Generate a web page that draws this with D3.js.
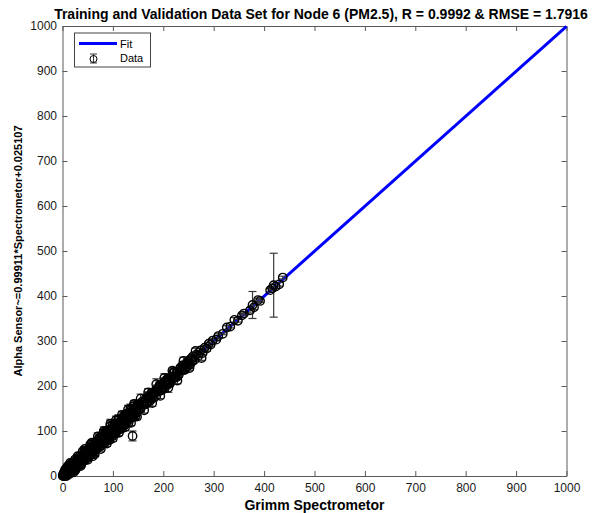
<!DOCTYPE html>
<html>
<head>
<meta charset="utf-8">
<script src="https://d3js.org/d3.v7.min.js"></script>
<style>
  body { margin: 0; background: #fff; }
  svg { display: block; font-family: "Liberation Sans", Arial, Helvetica, sans-serif; }
</style>
</head>
<body>
<div id="chart"></div>
<script>
// Grimm readings (x) vs Alpha sensor readings (y), with error bar half-widths
var grimm = [
  0.5,1,1.6,2.2,2.9,3.5,4.2,5,5.6,6.3,7.1,7.8,8.6,9.4,10.1,11,11.8,12.5,13.4,14.2,
  15,15.9,16.7,17.5,18.4,19.2,20.1,21,21.8,22.7,23.6,24.4,25.3,26.2,27.1,28,28.9,29.8,30.7,31.6,
  32.5,33.4,34.4,35.3,36.2,37.2,38.1,39,40,41,42,43,44,45,46,47,48,49,50,51,
  52,53,54,55,56,57,58,59,60,
  61,62.3,63.5,64.8,66,67.2,68.5,69.7,71,72.2,73.5,74.7,76,77.2,78.5,79.7,81,82.2,83.5,84.7,
  86,87.2,88.5,89.7,91,92.2,93.5,94.7,96,97.2,98.5,99.7,101,102.2,103.5,104.7,106,107.2,108.5,109.7,
  111,112.2,113.5,114.7,116,117.2,118.5,119.7,121,122.2,123.5,124.7,126,127.2,128.5,129.7,131,132.2,133.5,134.7,
  136,137.2,138.5,139.7,141,142.5,144,145.5,147,148.5,150,
  152,155,158,160,163,166,169,172,175,178,181,184,187,190,193,196,199,202,205,208,
  211,214,217,220,223,226,229,232,235,238,241,244,247,250,253,256,259,262,266,270,
  274,278,282,286,290,294,298,
  305,309,318,326,333,341,348,356,360,372,377,380,388,392,412,416,419,423,430,437,
  139,
  15,22,30,36,44,50,58,64,70,76,82,88,95,100,106,112,118,124,130,136,
  142,148,155,162,170,178,186,194,202,210,218,228,240,252,264,276,40,25,10,5,
  8,55,60,
  1,3,5,7,9,11,13,15,17,19,21,23,25,27,29,31,33,35,37,39,
  41,43,45,47,49,51,53,55,57,59,61,63,65,67,69,71,73,75,77,79,
  81,83,85,87,89,91,93,95,97,99,101,103,105,107,109,111,113,115,117,119,
  121,123,125,127,129,131,133,135,137,139,141,143,145,147,149,
  154,157,162,165,168,171,174,177,180,183,186,189,192,195,198,201,204,207,210,213,
  216,219,222,225,228,231,234,237,240,243,246,249,252,255,258
];
var alpha = [
  2,0.2,4.6,1.2,6.9,0.5,6.2,1,10.6,6.3,2.1,10.8,14.6,7.4,4.1,15,12.8,9.5,20.4,13.2,
  17,10.9,21.7,10.5,21.4,19.2,26.1,17,19.8,30.7,17.6,25.4,29.3,23.2,20.1,33,30.9,28.8,37.7,26.6,
  35.5,25.4,34.4,41.3,33.2,41.2,32.1,41,48,37,43,36,49,43,53,42,51,58,49,45,
  56,45,60,52,58,65,52,60,56,
  64,56.3,70.5,62.8,71,59.2,69.5,75.7,67,81.2,72.5,67.7,80,88.2,75.5,81.7,72,89.2,78.5,97.7,
  86,81.2,93.5,87.7,100,84.2,96.5,110.7,92,103.2,88.5,101.7,109,96.2,115.5,101.7,110,98.2,115.5,108.7,
  125,107.2,115.5,106.7,122,127.2,114.5,122.7,110,130.2,121.5,129.7,138,120.2,129.5,125.7,140,126.2,136.5,149.7,
  133,129.2,144.5,141.7,131,149.5,143,149.5,141,157.5,147,
  156,150,165,158,166,160,177,173,171,183,174,186,193,187,202,191,200,194,209,215,
  209,208,220,230,219,228,222,237,234,246,236,247,244,256,247,258,266,258,270,268,
  279,273,285,283,294,292,301,
  303,311,316,330,332,347,345,357,361,368,380,375,391,389,413,417,424,421,426,441,
  89,
  29,8,44,22,60,36,74,48,88,60,100,72,116,84,124,96,136,108,148,118,
  160,132,172,146,186,162,204,178,218,196,234,212,256,240,278,262,55,12,22,14,
  0,70,44,
  0,8,0.8,16,3,21,4,17,28,9,28,19,37,16,32,24,43,33,25,47,
  46,34,56,42,50,40,62,52,70,51,67,51,69,77,63,70,85,66,84,75,
  95,73,87,96,82,102,80,100,95,112,93,109,94,117,105,126,104,118,105,127,
  133,117,115,131,138,118,140,132,148,131,155,138,134,153,159,
  149,163,159,172,162,175,167,185,178,188,178,192,199,190,204,197,212,201,213,206,
  221,216,231,219,232,226,241,235,246,236,249,254,248,261,255
];
var errBar = [
  1,2,1,3,2,1,2,3,2,1,3,2,4,2,1,3,2,5,2,1,
  3,2,4,3,2,1,5,2,3,4,2,1,3,6,2,3,4,2,5,3,
  2,4,1,3,6,2,4,3,5,2,3,7,2,4,3,5,2,4,6,3,
  2,5,3,8,2,4,3,5,2,
  3,5,2,6,4,3,8,2,5,4,3,9,2,6,4,5,3,7,2,10,
  4,3,6,5,2,8,4,12,3,5,7,4,9,3,6,5,4,10,3,6,
  8,4,5,3,11,6,4,7,3,5,9,4,6,3,8,5,4,7,3,10,
  5,6,4,8,3,6,5,4,7,3,6,
  4,6,3,8,5,4,10,3,6,5,7,4,9,5,3,6,4,8,5,12,
  4,6,3,7,5,4,8,3,6,5,4,7,3,5,6,4,5,3,6,4,
  5,3,4,6,3,5,4,
  3,5,2,4,3,5,3,4,3,6,30,5,4,3,4,3,71,5,4,3,
  11,
  3,2,4,3,5,3,6,4,8,5,9,6,10,7,9,6,8,7,9,6,
  8,7,10,6,8,7,12,6,9,10,6,7,8,5,6,5,3,2,2,2,
  1,4,4,
  2,2,1,3,2,3,2,3,4,2,3,2,5,3,2,4,3,2,5,3,
  4,3,6,2,3,5,4,2,6,3,4,5,3,6,2,4,7,3,5,2,
  8,4,3,6,2,5,7,3,4,9,3,5,6,4,3,10,5,4,6,3,
  8,4,5,3,6,7,4,3,8,5,9,4,6,3,5,
  4,5,3,6,4,5,3,7,4,5,6,3,8,4,5,3,6,4,5,7,
  3,4,9,5,4,6,3,5,4,6,3,5,4,3,5
];

// fitted line: Alpha Sensor ~= 0.99911*Spectrometor + 0.025107
var fitX = [0, 1000];
var fitY = [0.025107, 999.135];

var axisTicks = [0, 100, 200, 300, 400, 500, 600, 700, 800, 900, 1000];

var width = 606, height = 513;
var plotLeft = 62.5, plotRight = 566.5, plotTop = 26, plotBottom = 476;

var svg = d3.select("#chart").append("svg")
  .attr("width", width)
  .attr("height", height);

var xScale = d3.scaleLinear().domain([0, 1000]).range([plotLeft, plotRight]);
var yScale = d3.scaleLinear().domain([0, 1000]).range([plotBottom, plotTop]);
var fmt = d3.format("d");

// axes, ticks pointing inward like matlab
function styleAxis(g) {
  g.selectAll("path").attr("stroke", "#5a5a5a");
  g.selectAll("line").attr("stroke", "#5a5a5a");
  g.selectAll("text").attr("fill", "#1a1a1a").style("font-size", "12px");
}

svg.append("g")
  .attr("transform", "translate(0," + plotBottom + ")")
  .call(d3.axisBottom(xScale).tickValues(axisTicks).tickFormat(fmt).tickSizeInner(-5).tickSizeOuter(0).tickPadding(7))
  .call(styleAxis);
svg.append("g")
  .attr("transform", "translate(" + plotLeft + ",0)")
  .call(d3.axisLeft(yScale).tickValues(axisTicks).tickFormat(fmt).tickSizeInner(-5).tickSizeOuter(0).tickPadding(5.5))
  .call(styleAxis);
svg.append("g")
  .attr("transform", "translate(0," + plotTop + ")")
  .call(d3.axisTop(xScale).tickValues(axisTicks).tickSizeInner(-5).tickSizeOuter(0).tickFormat(""))
  .call(styleAxis);
svg.append("g")
  .attr("transform", "translate(" + plotRight + ",0)")
  .call(d3.axisRight(yScale).tickValues(axisTicks).tickSizeInner(-5).tickSizeOuter(0).tickFormat(""))
  .call(styleAxis);

// fit line
svg.append("line")
  .attr("x1", xScale(fitX[0]))
  .attr("y1", yScale(fitY[0]))
  .attr("x2", xScale(fitX[1]))
  .attr("y2", yScale(fitY[1]))
  .style("stroke", "#0000ff")
  .style("stroke-width", 3);

// error bars + circles
var pts = grimm.map(function(g, i) { return {x: g, y: alpha[i], e: errBar[i]}; });
var cap = 4;

var bars = svg.append("g").selectAll("g")
  .data(pts)
  .enter()
  .append("g")
  .style("stroke", "#3a3a3a")
  .style("stroke-width", 1.2);
bars.append("line")
  .attr("x1", function(d) { return xScale(d.x); })
  .attr("x2", function(d) { return xScale(d.x); })
  .attr("y1", function(d) { return yScale(d.y - d.e); })
  .attr("y2", function(d) { return yScale(d.y + d.e); });
bars.append("line")
  .attr("x1", function(d) { return xScale(d.x) - cap; })
  .attr("x2", function(d) { return xScale(d.x) + cap; })
  .attr("y1", function(d) { return yScale(d.y + d.e); })
  .attr("y2", function(d) { return yScale(d.y + d.e); });
bars.append("line")
  .attr("x1", function(d) { return xScale(d.x) - cap; })
  .attr("x2", function(d) { return xScale(d.x) + cap; })
  .attr("y1", function(d) { return yScale(d.y - d.e); })
  .attr("y2", function(d) { return yScale(d.y - d.e); });

svg.append("g").selectAll("circle")
  .data(pts)
  .enter()
  .append("circle")
  .attr("cx", function(d) { return xScale(d.x); })
  .attr("cy", function(d) { return yScale(d.y); })
  .attr("r", 4.2)
  .style("fill", "none")
  .style("stroke", "#000")
  .style("stroke-width", 1.4);

// legend
var legend = svg.append("g");
legend.append("rect")
  .attr("x", 74.5).attr("y", 33)
  .attr("width", 76).attr("height", 34)
  .style("fill", "#fff")
  .style("stroke", "#444")
  .style("stroke-width", 1);
legend.append("line")
  .attr("x1", 79).attr("x2", 117)
  .attr("y1", 43.5).attr("y2", 43.5)
  .style("stroke", "#0000ff")
  .style("stroke-width", 3);
legend.append("text")
  .attr("x", 120).attr("y", 47.5)
  .style("font-size", "11px")
  .text("Fit");
legend.append("line")
  .attr("x1", 93.5).attr("x2", 93.5).attr("y1", 54).attr("y2", 63)
  .style("stroke", "#3a3a3a");
legend.append("line")
  .attr("x1", 90).attr("x2", 97).attr("y1", 54).attr("y2", 54)
  .style("stroke", "#3a3a3a");
legend.append("line")
  .attr("x1", 90).attr("x2", 97).attr("y1", 63).attr("y2", 63)
  .style("stroke", "#3a3a3a");
legend.append("circle")
  .attr("cx", 93.5).attr("cy", 59).attr("r", 3.5)
  .style("fill", "none").style("stroke", "#000");
legend.append("text")
  .attr("x", 120).attr("y", 62)
  .style("font-size", "11px")
  .text("Data");

// titles
svg.append("text")
  .attr("x", 321).attr("y", 19)
  .attr("text-anchor", "middle")
  .style("font-size", "14px")
  .style("font-weight", "bold")
  .text("Training and Validation Data Set for Node 6 (PM2.5), R = 0.9992 & RMSE = 1.7916");

svg.append("text")
  .attr("x", 314.5).attr("y", 510)
  .attr("text-anchor", "middle")
  .style("font-size", "14px")
  .style("font-weight", "bold")
  .text("Grimm Spectrometor");

svg.append("text")
  .attr("transform", "translate(22," + (plotTop + plotBottom) / 2 + ") rotate(-90)")
  .attr("text-anchor", "middle")
  .style("font-size", "11px")
  .style("font-weight", "bold")
  .text("Alpha Sensor~=0.99911*Spectrometor+0.025107");
</script>
</body>
</html>
